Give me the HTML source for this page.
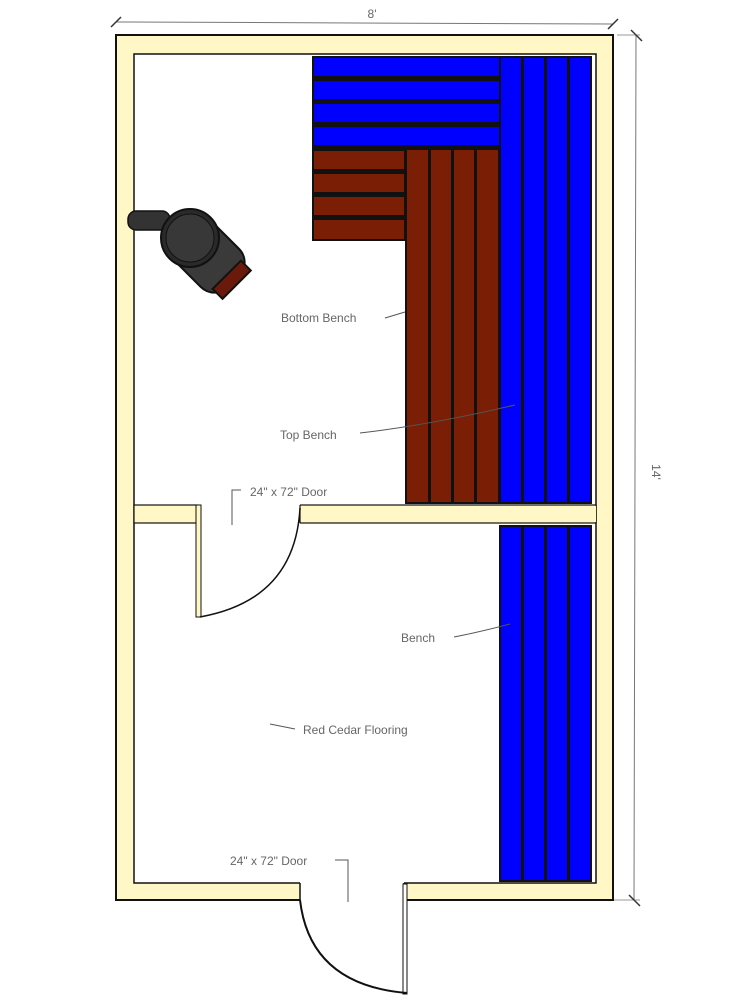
<!DOCTYPE html>
<html><head><meta charset="utf-8"><style>
html,body{margin:0;padding:0;background:#fff;width:750px;height:1000px;overflow:hidden}
svg{display:block}
text{font-family:"Liberation Sans",sans-serif;fill:#666;font-size:12px}
</style></head><body>
<svg width="750" height="1000" viewBox="0 0 750 1000">
<!-- dimension lines -->
<line x1="116" y1="22" x2="613" y2="24" stroke="#777" stroke-width="1"/>
<line x1="111" y1="27" x2="121" y2="17" stroke="#333" stroke-width="1.5"/>
<line x1="608" y1="29" x2="618" y2="19" stroke="#333" stroke-width="1.5"/>
<text x="372" y="18" text-anchor="middle">8'</text>
<line x1="636" y1="35" x2="634" y2="900" stroke="#777" stroke-width="1"/>
<line x1="617" y1="35" x2="640" y2="35" stroke="#999" stroke-width="1"/>
<line x1="614" y1="900" x2="640" y2="900" stroke="#999" stroke-width="1"/>
<line x1="631" y1="30" x2="642" y2="41" stroke="#333" stroke-width="1.5"/>
<line x1="629" y1="895" x2="640" y2="906" stroke="#333" stroke-width="1.5"/>
<text x="652" y="472" text-anchor="middle" transform="rotate(90 652 472)">14'</text>

<!-- walls -->
<rect x="116" y="35" width="497" height="865" fill="#fff8c6" stroke="#111" stroke-width="2"/>
<rect x="134" y="54" width="462" height="829" fill="#fff" stroke="#111" stroke-width="1.5"/>
<rect x="134" y="505" width="462" height="18" fill="#fff8c6" stroke="#111" stroke-width="1.2"/>
<rect x="135" y="506" width="4" height="16" fill="#fff8c6"/>
<rect x="592" y="506" width="4" height="16" fill="#fff8c6"/>
<!-- middle door gap -->
<rect x="198" y="503" width="102" height="21" fill="#fff"/>
<rect x="196" y="505" width="5" height="112" fill="#fff8c6" stroke="#111" stroke-width="1"/>
<line x1="300" y1="505" x2="300" y2="523" stroke="#111" stroke-width="1.2"/>
<path d="M300 508 Q295 600 200 617" fill="none" stroke="#111" stroke-width="1.5"/>
<!-- bottom door gap -->
<rect x="300" y="881" width="104" height="21" fill="#fff"/>
<line x1="300" y1="883" x2="300" y2="900" stroke="#111" stroke-width="1.5"/>
<line x1="404" y1="883" x2="404" y2="900" stroke="#111" stroke-width="1.5"/>
<rect x="403" y="884" width="4" height="110" fill="#fff" stroke="#111" stroke-width="1"/>
<path d="M300 900 Q310 985 407 993" fill="none" stroke="#111" stroke-width="2"/>

<!-- bench backgrounds (dark gaps) -->
<g fill="#111">
<rect x="312" y="56" width="280" height="92"/>
<rect x="312" y="148" width="187" height="93"/>
<rect x="405" y="148" width="187" height="356"/>
<rect x="499" y="525" width="93" height="357"/>
</g>
<g fill="#0000ff">
<rect x="314" y="58" width="185" height="18"/>
<rect x="314" y="81" width="185" height="18"/>
<rect x="314" y="104" width="185" height="18"/>
<rect x="314" y="127" width="185" height="18"/>
<rect x="501" y="58" width="20" height="444"/>
<rect x="524" y="58" width="20" height="444"/>
<rect x="547" y="58" width="20" height="444"/>
<rect x="570" y="58" width="20" height="444"/>
<rect x="501" y="527" width="20" height="353"/>
<rect x="524" y="527" width="20" height="353"/>
<rect x="547" y="527" width="20" height="353"/>
<rect x="570" y="527" width="20" height="353"/>
</g>
<g fill="#7a1e06">
<rect x="314" y="151" width="90" height="18"/>
<rect x="314" y="174" width="90" height="18"/>
<rect x="314" y="197" width="90" height="18"/>
<rect x="314" y="220" width="90" height="19"/>
<rect x="407" y="150" width="21" height="352"/>
<rect x="431" y="150" width="20" height="352"/>
<rect x="454" y="150" width="20" height="352"/>
<rect x="477" y="150" width="21" height="352"/>
</g>

<!-- heater -->
<rect x="128" y="211" width="42" height="19" rx="8" fill="#333" stroke="#111" stroke-width="1.5"/>
<g transform="translate(190 238) rotate(-45)">
<rect x="-27" y="-20" width="54" height="82" rx="20" fill="#3a3a3a" stroke="#111" stroke-width="2"/>
<rect x="-20" y="52" width="40" height="14" fill="#6a1a0a" stroke="#111" stroke-width="2"/>
<circle cx="0" cy="0" r="29" fill="#2a2a2a" stroke="#111" stroke-width="2"/>
<circle cx="0" cy="0" r="24" fill="#383838" stroke="#111" stroke-width="1"/>
</g>

<!-- labels -->
<text x="281" y="322">Bottom Bench</text>
<path d="M385 318 Q395 315 405 312" fill="none" stroke="#555"/>
<text x="280" y="439">Top Bench</text>
<path d="M360 433 Q430 425 515 405" fill="none" stroke="#555"/>
<text x="250" y="496">24" x 72" Door</text>
<path d="M241 490 L232 490 L232 525" fill="none" stroke="#555"/>
<text x="401" y="642">Bench</text>
<path d="M454 637 Q480 632 510 624" fill="none" stroke="#555"/>
<text x="303" y="734">Red Cedar Flooring</text>
<path d="M295 729 L270 724" fill="none" stroke="#555"/>
<text x="230" y="865">24" x 72" Door</text>
<path d="M335 860 L348 860 L348 902" fill="none" stroke="#555"/>
</svg>
</body></html>
